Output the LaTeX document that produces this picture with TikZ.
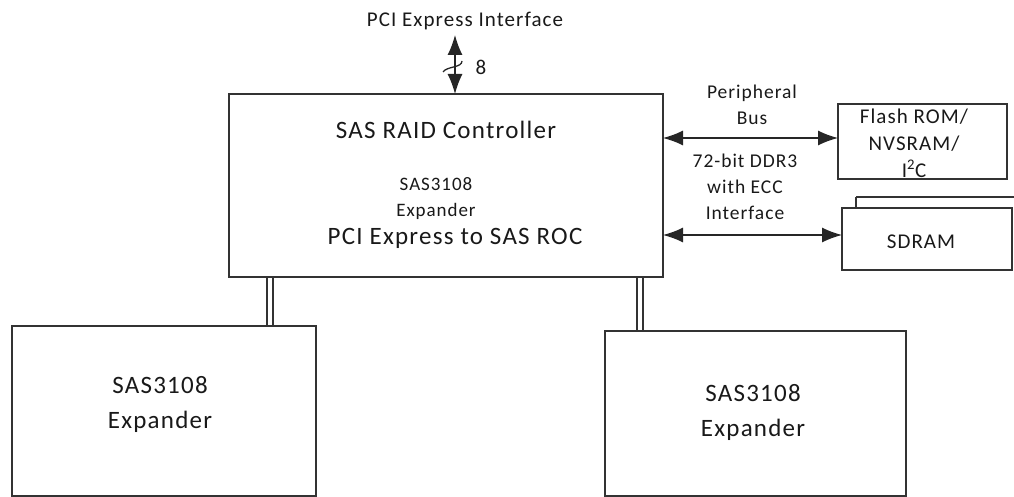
\documentclass[tikz,border=0pt]{standalone}
\usepackage{fontspec}
\setmainfont{Carlito}[LetterSpace=5]
\usetikzlibrary{arrows.meta}
\begin{document}
\begin{tikzpicture}[x=1pt,y=-1pt,
  blk/.style={draw=black!80, line width=1.3pt, fill=white},
  lbl/.style={inner sep=0pt, align=center, text=black!90},
  big/.style={font=\fontsize{25}{35}\selectfont},
  mid/.style={font=\fontsize{21}{26}\selectfont},
  sml/.style={font=\fontsize{19.5}{26}\selectfont},
  fls/.style={font=\fontsize{21}{27}\selectfont},
  tiny/.style={font=\fontsize{19}{26}\selectfont},
  conn/.style={line width=1.3pt, draw=black!85, {Latex[length=20pt,width=15pt]}-{Latex[length=20pt,width=15pt]}},
  bus/.style={line width=1.1pt, draw=black!80}]
\useasboundingbox (0,0) rectangle (1014,497);
% main box
\draw[blk] (229,94) rectangle (663,277);
\coordinate (mainT) at (455,94);
\coordinate (mainR1) at (663,138);
\coordinate (mainR2) at (663,235);
\node[lbl,big] (t1) at (446,130) {SAS RAID Controller};
\node[lbl,tiny] (t2) at (436,199) {SAS3108\\Expander};
\node[lbl,big] (t3) at (455,238) {PCI Express to SAS ROC};
% PCI
\node[lbl,mid] (pci) at (465,21) {PCI Express Interface};
\coordinate (pciB) at (455,35);
\draw[conn] (pciB) -- (mainT);
\draw[line width=1.3pt, draw=black!85] (443,72) .. controls (447,66) and (462,68) .. (462,61);
\node[lbl,mid] (eight) at (481,67) {8};
% flash
\draw[blk] (838,104) rectangle (1007,179);
\coordinate (flashL) at (838,138);
\node[lbl,fls] (flash) at (914,143) {Flash ROM/\\NVSRAM/\\I\textsuperscript{2}C};
% sdram
\draw[blk] (856,197) -- (1016,197);
\draw[blk] (856,208) -- (856,197);
\draw[blk] (842,208) rectangle (1012,270);
\coordinate (sdramL) at (842,235);
\node[lbl,mid] (sdram) at (921,242) {SDRAM};
% arrows
\draw[conn] (mainR1) -- (flashL);
\draw[conn] (mainR2) -- (sdramL);
\node[lbl,sml] (pb) at (752,105) {Peripheral\\Bus};
\node[lbl,sml] (ddr) at (745,187) {72-bit DDR3\\with ECC\\Interface};
% expanders
\draw[blk] (12,326) rectangle (316,496);
\draw[blk] (605,331) rectangle (906,496);
\node[lbl,big] (e1) at (160,404) {SAS3108\\Expander};
\node[lbl,big] (e2) at (753,412) {SAS3108\\Expander};
% buses
\draw[bus] (267,277) -- (267,326);
\draw[bus] (273,277) -- (273,326);
\draw[bus] (637,277) -- (637,331);
\draw[bus] (643,277) -- (643,331);
\end{tikzpicture}
\end{document}
